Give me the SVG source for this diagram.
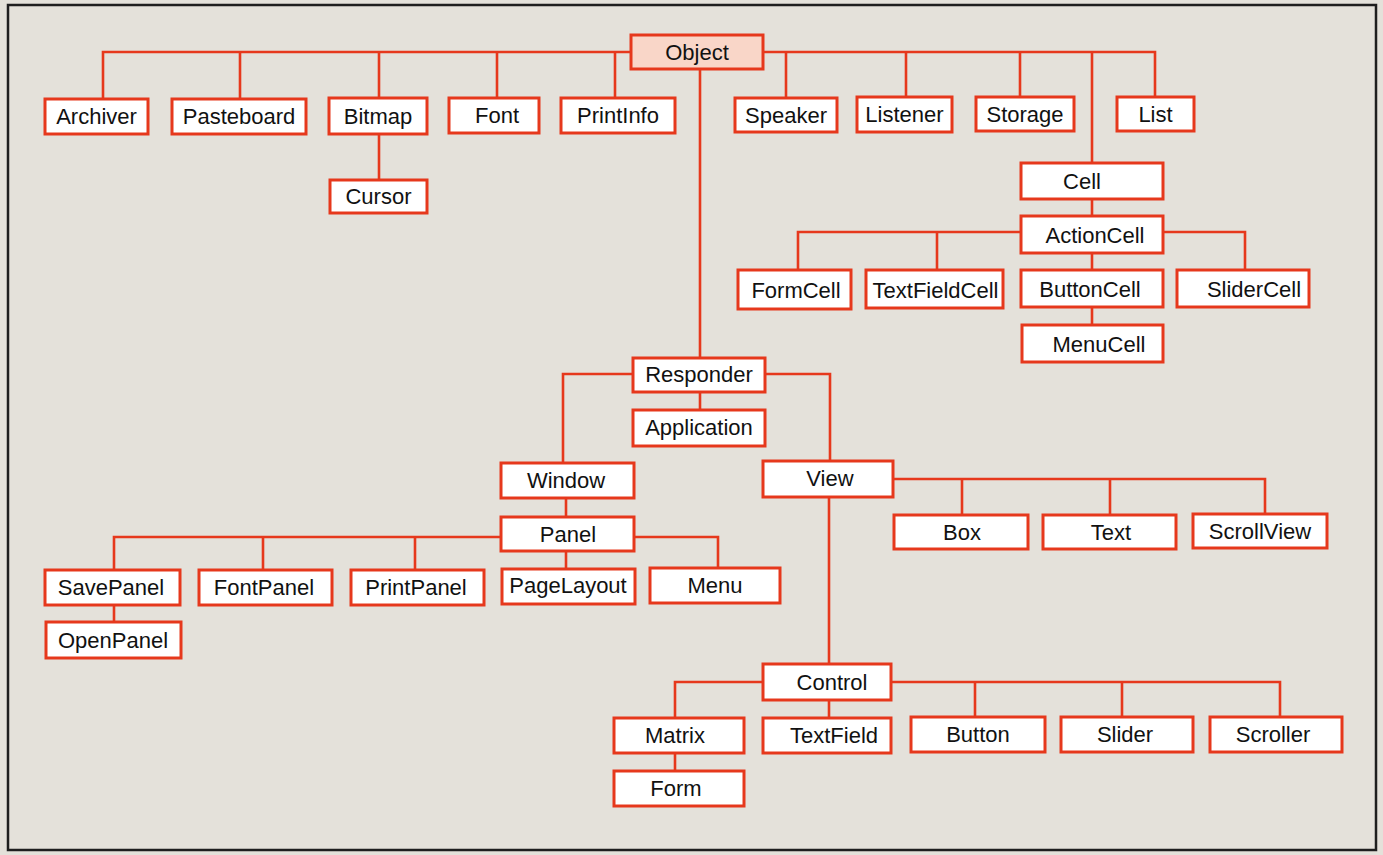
<svg xmlns="http://www.w3.org/2000/svg" width="1383" height="855" viewBox="0 0 1383 855">
<style>
.bg{fill:#e4e1da}
.frame{fill:none;stroke:#1e1e1e;stroke-width:2.5}
.n rect{fill:#ffffff;stroke:#e6381c;stroke-width:3}
.n text{font-family:"Liberation Sans",Arial,sans-serif;font-size:22px;fill:#111;text-anchor:middle}
#obj rect{fill:#f9d6c8}
#edges path{fill:none;stroke:#e6381c;stroke-width:2.6}
</style>
<rect class="bg" x="0" y="0" width="1383" height="855"/>
<rect class="frame" x="8" y="5" width="1368" height="845"/>
<g id="edges">
<path d="M103,99 V52 H630 M763,52 H1155 V97"/>
<path d="M240,52 V99 M379,52 V98 M497,52 V98 M615,52 V98"/>
<path d="M786,52 V98 M906,52 V97 M1020,52 V97 M1092,52 V163"/>
<path d="M379,134 V180"/>
<path d="M1092,199 V216 M1092,253 V270 M1092,307 V325"/>
<path d="M1021,232 H798 V270 M937,232 V270 M1163,232 H1245 V270"/>
<path d="M700,68 V358 M700,392 V410"/>
<path d="M633,374 H563 V463 M765,374 H830 V461"/>
<path d="M566,498 V517 M566,551 V569"/>
<path d="M501,537 H114 V570 M263,537 V570 M415,537 V570 M634,537 H718 V568"/>
<path d="M114,605 V622"/>
<path d="M893,479 H1265 V514 M962,479 V515 M1110,479 V515"/>
<path d="M829,497 V664 M829,700 V718"/>
<path d="M763,682 H675 V718 M891,682 H1280 V717 M975,682 V717 M1122,682 V717"/>
<path d="M675,753 V771"/>
</g>
<g id="obj" class="n"><rect x="631" y="35" width="132" height="34"/><text x="697" y="60">Object</text></g>
<g id="archiver" class="n"><rect x="45" y="99" width="103" height="35"/><text x="96.5" y="124">Archiver</text></g>
<g id="pasteboard" class="n"><rect x="172" y="99" width="134" height="35"/><text x="239" y="124">Pasteboard</text></g>
<g id="bitmap" class="n"><rect x="329" y="98" width="98" height="36"/><text x="378" y="123.5">Bitmap</text></g>
<g id="font" class="n"><rect x="449" y="98" width="90" height="35"/><text x="497" y="123">Font</text></g>
<g id="printinfo" class="n"><rect x="561" y="98" width="114" height="35"/><text x="618" y="123">PrintInfo</text></g>
<g id="speaker" class="n"><rect x="735" y="98" width="102" height="34"/><text x="786" y="122.5">Speaker</text></g>
<g id="listener" class="n"><rect x="857" y="97" width="95" height="35"/><text x="904.5" y="122">Listener</text></g>
<g id="storage" class="n"><rect x="976" y="97" width="98" height="34"/><text x="1025" y="121.5">Storage</text></g>
<g id="list" class="n"><rect x="1117" y="97" width="77" height="34"/><text x="1155.5" y="121.5">List</text></g>
<g id="cursor" class="n"><rect x="330" y="180" width="97" height="33"/><text x="378.5" y="204">Cursor</text></g>
<g id="cell" class="n"><rect x="1021" y="163" width="142" height="36"/><text x="1082" y="189">Cell</text></g>
<g id="actioncell" class="n"><rect x="1021" y="216" width="142" height="37"/><text x="1095" y="242.5">ActionCell</text></g>
<g id="formcell" class="n"><rect x="738" y="270" width="113" height="39"/><text x="796" y="298">FormCell</text></g>
<g id="textfieldcell" class="n"><rect x="866" y="270" width="137" height="38"/><text x="935.5" y="297.5">TextFieldCell</text></g>
<g id="buttoncell" class="n"><rect x="1021" y="270" width="142" height="37"/><text x="1090" y="296.5">ButtonCell</text></g>
<g id="slidercell" class="n"><rect x="1177" y="270" width="132" height="37"/><text x="1254" y="296.5">SliderCell</text></g>
<g id="menucell" class="n"><rect x="1022" y="325" width="141" height="37"/><text x="1099" y="351.5">MenuCell</text></g>
<g id="responder" class="n"><rect x="633" y="358" width="132" height="34"/><text x="699" y="382">Responder</text></g>
<g id="application" class="n"><rect x="633" y="410" width="132" height="36"/><text x="699" y="435">Application</text></g>
<g id="window" class="n"><rect x="501" y="463" width="133" height="35"/><text x="566" y="488">Window</text></g>
<g id="view" class="n"><rect x="763" y="461" width="130" height="36"/><text x="830" y="486">View</text></g>
<g id="panel" class="n"><rect x="501" y="517" width="133" height="34"/><text x="568" y="542">Panel</text></g>
<g id="savepanel" class="n"><rect x="45" y="570" width="135" height="35"/><text x="111" y="595">SavePanel</text></g>
<g id="fontpanel" class="n"><rect x="199" y="570" width="133" height="35"/><text x="264" y="595">FontPanel</text></g>
<g id="printpanel" class="n"><rect x="351" y="570" width="133" height="35"/><text x="416" y="595">PrintPanel</text></g>
<g id="pagelayout" class="n"><rect x="502" y="569" width="133" height="35"/><text x="568" y="593">PageLayout</text></g>
<g id="menu" class="n"><rect x="650" y="568" width="130" height="35"/><text x="715" y="593">Menu</text></g>
<g id="openpanel" class="n"><rect x="46" y="622" width="135" height="36"/><text x="113" y="647.5">OpenPanel</text></g>
<g id="box" class="n"><rect x="894" y="515" width="134" height="34"/><text x="962" y="540">Box</text></g>
<g id="text" class="n"><rect x="1043" y="515" width="133" height="34"/><text x="1111" y="540">Text</text></g>
<g id="scrollview" class="n"><rect x="1193" y="514" width="134" height="34"/><text x="1260" y="539">ScrollView</text></g>
<g id="control" class="n"><rect x="763" y="664" width="128" height="36"/><text x="832" y="689.5">Control</text></g>
<g id="matrix" class="n"><rect x="614" y="718" width="130" height="35"/><text x="675" y="743">Matrix</text></g>
<g id="textfield" class="n"><rect x="763" y="718" width="128" height="35"/><text x="834" y="743">TextField</text></g>
<g id="button" class="n"><rect x="911" y="717" width="134" height="35"/><text x="978" y="742">Button</text></g>
<g id="slider" class="n"><rect x="1061" y="717" width="132" height="35"/><text x="1125" y="742">Slider</text></g>
<g id="scroller" class="n"><rect x="1210" y="717" width="132" height="35"/><text x="1273" y="742">Scroller</text></g>
<g id="form" class="n"><rect x="614" y="771" width="130" height="35"/><text x="676" y="796">Form</text></g>
</svg>
